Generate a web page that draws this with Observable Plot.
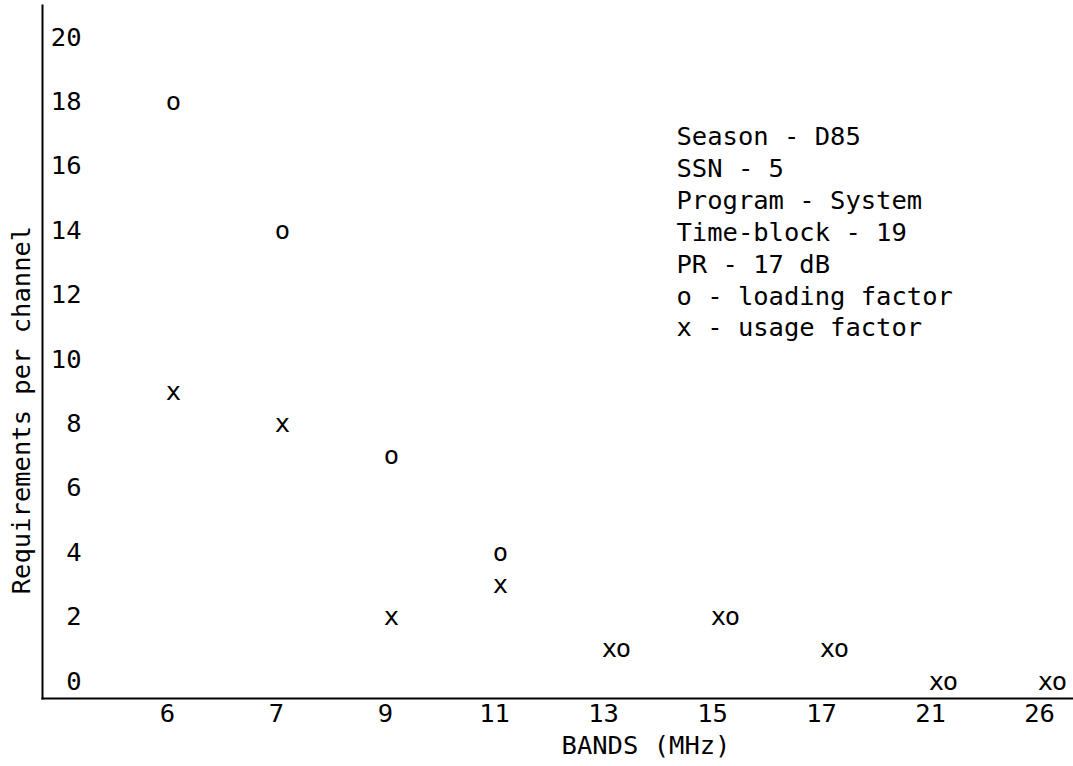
<!DOCTYPE html>
<html>
<head>
<meta charset="utf-8">
<script src="https://cdn.jsdelivr.net/npm/d3@7"></script>
<script src="https://cdn.jsdelivr.net/npm/@observablehq/plot@0.6"></script>
<style>
  html, body { margin: 0; padding: 0; background: #fff; }
  #chart svg { display: block; }
</style>
</head>
<body>
<div id="chart"></div>
<script>
// ---- data ----
const bands = ["6", "7", "9", "11", "13", "15", "17", "21", "26"];
const loadingFactor = [18, 14, 7, 4, 1, 2, 1, 0, 0];
const usageFactor = [9, 8, 2, 3, 1, 2, 1, 0, 0];
const yTicks = [0, 2, 4, 6, 8, 10, 12, 14, 16, 18, 20];
const legendLines = [
  "Season - D85",
  "SSN - 5",
  "Program - System",
  "Time-block - 19",
  "PR - 17 dB",
  "o - loading factor",
  "x - usage factor"
];
const xTitle = "BANDS (MHz)";
const yTitle = "Requirements per channel";

// ---- table built from the arrays ----
const rows = bands.map((b, i) => ({band: b, loading: loadingFactor[i], usage: usageFactor[i]}));
const loadingAlone = rows.filter(d => d.loading !== d.usage);
const loadingShared = rows.filter(d => d.loading === d.usage);

const FONT = "DejaVu Sans Mono";
const FS = 25.5;

const chart = Plot.plot({
  width: 1073,
  height: 766,
  marginLeft: 42,
  marginRight: 0,
  marginTop: 5,
  marginBottom: 68,
  style: {fontFamily: FONT, fontSize: FS + "px", background: "#fff", color: "#000"},
  x: {type: "point", domain: bands, range: [169, 1043], padding: 0},
  y: {domain: [0, 20], range: [681, 37]},
  marks: [
    Plot.frame({anchor: "left", stroke: "#000", strokeWidth: 2}),
    Plot.frame({anchor: "bottom", stroke: "#000", strokeWidth: 2}),
    Plot.axisX({tickSize: 0, tickPadding: 5, dx: -3, label: null, fontSize: FS, fontFamily: FONT}),
    Plot.axisY({ticks: yTicks, tickSize: 0, tickPadding: 3, dx: 42, textAnchor: "end", label: null, fontSize: FS, fontFamily: FONT}),
    // usage factor "x"
    Plot.text(rows, {x: "band", y: "usage", text: () => "x", dx: 3, fontSize: FS, fontFamily: FONT, fill: "#000"}),
    // loading factor "o"
    Plot.text(loadingAlone, {x: "band", y: "loading", text: () => "o", dx: 3, fontSize: FS, fontFamily: FONT, fill: "#000"}),
    Plot.text(loadingShared, {x: "band", y: "loading", text: () => "o", dx: 17, fontSize: FS, fontFamily: FONT, fill: "#000"}),
    // legend block
    Plot.text([legendLines.join("\n")], {frameAnchor: "top-left", textAnchor: "start", lineAnchor: "top", lineHeight: 1.25, dx: 634, dy: 117, fontSize: FS, fontFamily: FONT, fill: "#000"}),
    // axis titles
    Plot.text([xTitle], {frameAnchor: "bottom", textAnchor: "middle", lineAnchor: "middle", dx: 88, dy: 47, fontSize: FS, fontFamily: FONT, fill: "#000"}),
    Plot.text([yTitle], {frameAnchor: "left", rotate: -90, textAnchor: "middle", lineAnchor: "middle", dx: -21, dy: 58, fontSize: FS, fontFamily: FONT, fill: "#000"})
  ]
});

document.getElementById("chart").appendChild(chart);
</script>
</body>
</html>
